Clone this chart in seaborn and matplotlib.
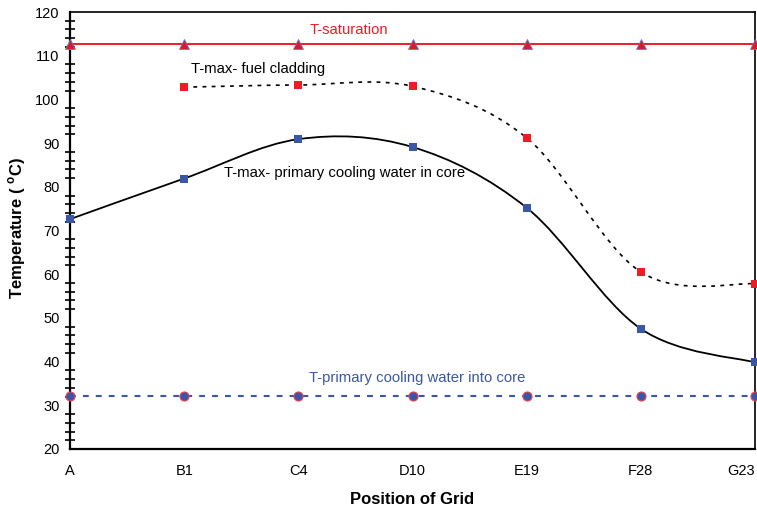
import numpy as np
import pandas as pd
import matplotlib
matplotlib.use("Agg")
import matplotlib.pyplot as plt
import seaborn as sns
from matplotlib.path import Path
from matplotlib.patches import PathPatch
from matplotlib.ticker import MultipleLocator, FixedLocator

# ---- data ----
positions = ["A", "B1", "C4", "D10", "E19", "F28", "G23"]
t_saturation = [112.6, 112.6, 112.6, 112.6, 112.6, 112.6, 112.6]
t_core_water = [72.6, 81.9, 90.9, 89.1, 75.2, 47.5, 39.8]
clad_positions = ["B1", "C4", "D10", "E19", "F28", "G23"]
t_fuel_cladding = [102.8, 103.3, 103.0, 91.2, 60.5, 57.8]
t_inlet = [32.2, 32.2, 32.2, 32.2, 32.2, 32.2, 32.2]

label_sat = "T-saturation"
label_clad = "T-max- fuel cladding"
label_core = "T-max- primary cooling water in core"
label_inlet = "T-primary cooling water into core"

sns.set_theme(style="white")
plt.rcParams["font.family"] = ["Liberation Sans", "DejaVu Sans"]
plt.rcParams["mathtext.fontset"] = "custom"
plt.rcParams["mathtext.rm"] = "Liberation Sans:bold"
plt.rcParams["mathtext.bf"] = "Liberation Sans:bold"

RED = "#ee1c24"
BLUE = "#3a57a7"

xi = {p: i for i, p in enumerate(positions)}
x_all = [xi[p] for p in positions]
x_clad = [xi[p] for p in clad_positions]


def smooth_path(xs, ys):
    pts = np.column_stack([xs, ys]).astype(float)
    n = len(pts)
    verts = [pts[0]]
    codes = [Path.MOVETO]
    for i in range(n - 1):
        p0 = pts[i - 1] if i > 0 else pts[i]
        p1 = pts[i]
        p2 = pts[i + 1]
        p3 = pts[i + 2] if i + 2 < n else pts[i + 1]
        c1 = p1 + (p2 - p0) / 6.0
        c2 = p2 - (p3 - p1) / 6.0
        verts += [c1, c2, p2]
        codes += [Path.CURVE4] * 3
    return Path(verts, codes)


fig = plt.figure(figsize=(7.57, 5.07), dpi=100)
ax = fig.add_axes([0.0925, 0.1144, 0.9049, 0.8619])

# saturation line
sns.lineplot(x=x_all, y=t_saturation, ax=ax, color=RED, lw=1.4,
             marker="^", markersize=6.5, markerfacecolor="#d0202e",
             markeredgecolor="#6a78c8", markeredgewidth=0.6, clip_on=False, zorder=3)

# inlet line
sns.lineplot(x=x_all, y=t_inlet, ax=ax, color=BLUE, lw=1.5,
             linestyle=(0, (2.8, 3.4)), marker="o", markersize=6.5,
             markerfacecolor=BLUE, markeredgecolor="#f04050", markeredgewidth=0.8,
             clip_on=False, zorder=3)

# smooth curves
ax.add_patch(PathPatch(smooth_path(x_all, t_core_water), facecolor="none",
                       edgecolor="black", lw=1.3, zorder=2))
ax.add_patch(PathPatch(smooth_path(x_clad, t_fuel_cladding), facecolor="none",
                       edgecolor="black", lw=1.2, linestyle=(0, (2.3, 3.2)), zorder=2))

# markers
sns.scatterplot(x=x_all, y=t_core_water, ax=ax, marker="s", s=30, color=BLUE,
                edgecolor=BLUE, linewidth=0, clip_on=False, zorder=4)
sns.scatterplot(x=x_clad, y=t_fuel_cladding, ax=ax, marker="s", s=30, color=RED,
                edgecolor=RED, linewidth=0, clip_on=False, zorder=4)

# annotations
fs_ann = 10.7
ax.text(2.10, 115.9, label_sat, color=RED, fontsize=fs_ann, ha="left", va="center")
ax.text(1.06, 107.0, label_clad, color="black", fontsize=fs_ann, ha="left", va="center")
ax.text(1.35, 83.2, label_core, color="black", fontsize=fs_ann, ha="left", va="center")
ax.text(2.09, 36.2, label_inlet, color=BLUE, fontsize=fs_ann, ha="left", va="center")

# axes
ax.set_xlim(0, 6)
ax.set_ylim(20, 120)
ax.xaxis.set_major_locator(FixedLocator(x_all))
ax.set_xticklabels(positions)
ax.yaxis.set_major_locator(MultipleLocator(10))
ax.yaxis.set_minor_locator(MultipleLocator(2))
ax.tick_params(axis="both", which="both", direction="inout", color="black",
               width=1.2, labelsize=10.5, labelcolor="black")
ax.tick_params(axis="y", which="major", length=8, pad=3.5)
ax.tick_params(axis="y", which="minor", length=7, left=True)
ax.tick_params(axis="x", which="major", length=8, pad=7)

for side in ["left", "bottom"]:
    ax.spines[side].set_linewidth(1.6)
    ax.spines[side].set_color("black")
for side in ["top", "right"]:
    ax.spines[side].set_linewidth(1.2)
    ax.spines[side].set_color("black")
    ax.spines[side].set_visible(True)

ax.set_xlabel("Position of Grid", fontsize=12, fontweight="bold", color="black")
ax.xaxis.set_label_coords(0.5, -0.098)
ax.set_ylabel(r"Temperature ( $^{\mathrm{o}}$C)", fontsize=12, fontweight="bold", color="black")
ax.yaxis.set_label_coords(-0.062, 0.505)
ax.grid(False)

# keep the last category label inside the canvas
ax.get_xticklabels()[-1].set_horizontalalignment("right")

fig.savefig("out.png", dpi=100)
